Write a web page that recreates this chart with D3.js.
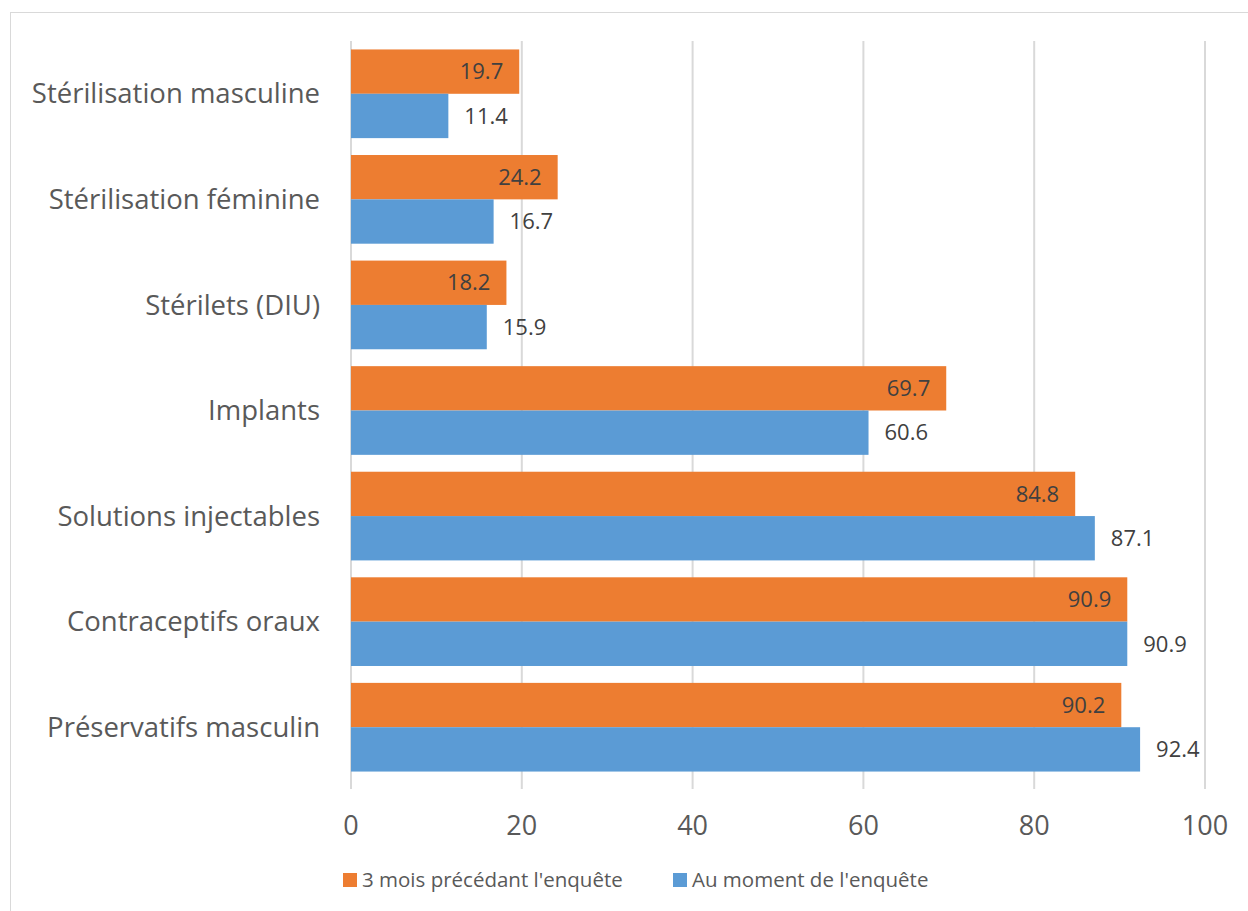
<!DOCTYPE html>
<html>
<head>
<meta charset="utf-8">
<script src="https://cdn.jsdelivr.net/npm/d3@7"></script>
<style>
  body { margin: 0; background: #fff; }
  text { font-family: "Open Sans", "Noto Sans", sans-serif; }
</style>
</head>
<body>
<div id="chart"></div>
<script>
// data
var categories = ["Stérilisation masculine", "Stérilisation féminine", "Stérilets (DIU)", "Implants",
                  "Solutions injectables", "Contraceptifs oraux", "Préservatifs masculin"];
var seriesNames = ["3 mois précédant l'enquête", "Au moment de l'enquête"];
var before3m = [19.7, 24.2, 18.2, 69.7, 84.8, 90.9, 90.2];
var atSurvey = [11.4, 16.7, 15.9, 60.6, 87.1, 90.9, 92.4];
var xTicks = [0, 20, 40, 60, 80, 100];
var colors = ["#ED7D31", "#5B9BD5"];

var W = 1248, H = 911;
var margin = {top: 41, right: 43, bottom: 131, left: 351};

var svg = d3.select("#chart").append("svg")
    .attr("width", W).attr("height", H);

// chart border
svg.append("rect")
    .attr("x", 10.5).attr("y", 12.5)
    .attr("width", W).attr("height", H)
    .attr("fill", "none").attr("stroke", "#d9d9d9").attr("stroke-width", 1);

var x = d3.scaleLinear().domain([0, 100]).range([margin.left, W - margin.right]);
var y = d3.scaleBand().domain(categories).range([margin.top, H - margin.bottom]).paddingInner(0.16).paddingOuter(0.08);
var ySub = d3.scaleBand().domain([0, 1]).range([0, y.bandwidth()]);

// grid lines
svg.append("g").selectAll("line")
    .data(xTicks).enter().append("line")
    .attr("x1", function(d) { return x(d); })
    .attr("x2", function(d) { return x(d); })
    .attr("y1", margin.top).attr("y2", H - margin.bottom + 9)
    .attr("stroke", "#d9d9d9").attr("stroke-width", 2);

// tick labels
svg.append("g").selectAll("text")
    .data(xTicks).enter().append("text")
    .attr("x", function(d) { return x(d); })
    .attr("y", 835)
    .attr("text-anchor", "middle")
    .attr("font-size", 27)
    .attr("fill", "#595959")
    .text(function(d) { return d; });

var rows = categories.map(function(c, i) {
    return {cat: c, vals: [before3m[i], atSurvey[i]]};
});

var groups = svg.append("g").selectAll("g")
    .data(rows).enter().append("g")
    .attr("transform", function(d) { return "translate(0," + y(d.cat) + ")"; });

groups.selectAll("rect")
    .data(function(d) { return d.vals; })
    .enter().append("rect")
    .attr("x", x(0))
    .attr("y", function(d, i) { return ySub(i); })
    .attr("width", function(d) { return x(d) - x(0); })
    .attr("height", ySub.bandwidth())
    .attr("fill", function(d, i) { return colors[i]; });

groups.selectAll("text.val")
    .data(function(d) { return d.vals; })
    .enter().append("text")
    .attr("class", "val")
    .attr("x", function(d, i) { return i === 0 ? x(d) - 16 : x(d) + 16; })
    .attr("y", function(d, i) { return ySub(i) + ySub.bandwidth() / 2; })
    .attr("dy", "0.35em")
    .attr("text-anchor", function(d, i) { return i === 0 ? "end" : "start"; })
    .attr("font-size", 22)
    .attr("fill", "#404040")
    .text(function(d) { return d.toFixed(1); });

// category labels
groups.append("text")
    .attr("x", 320)
    .attr("y", y.bandwidth() / 2)
    .attr("dy", "0.35em")
    .attr("text-anchor", "end")
    .attr("font-size", 27.5)
    .attr("fill", "#595959")
    .text(function(d) { return d.cat; });

// legend
var legendX = [343, 673];
var legend = svg.append("g").selectAll("g")
    .data(seriesNames).enter().append("g")
    .attr("transform", function(d, i) { return "translate(" + legendX[i] + ",873)"; });
legend.append("rect")
    .attr("width", 14).attr("height", 14)
    .attr("fill", function(d, i) { return colors[i]; });
legend.append("text")
    .attr("x", 19).attr("y", 7)
    .attr("dy", "0.35em")
    .attr("font-size", 20.5)
    .attr("fill", "#595959")
    .text(function(d) { return d; });
</script>
</body>
</html>
